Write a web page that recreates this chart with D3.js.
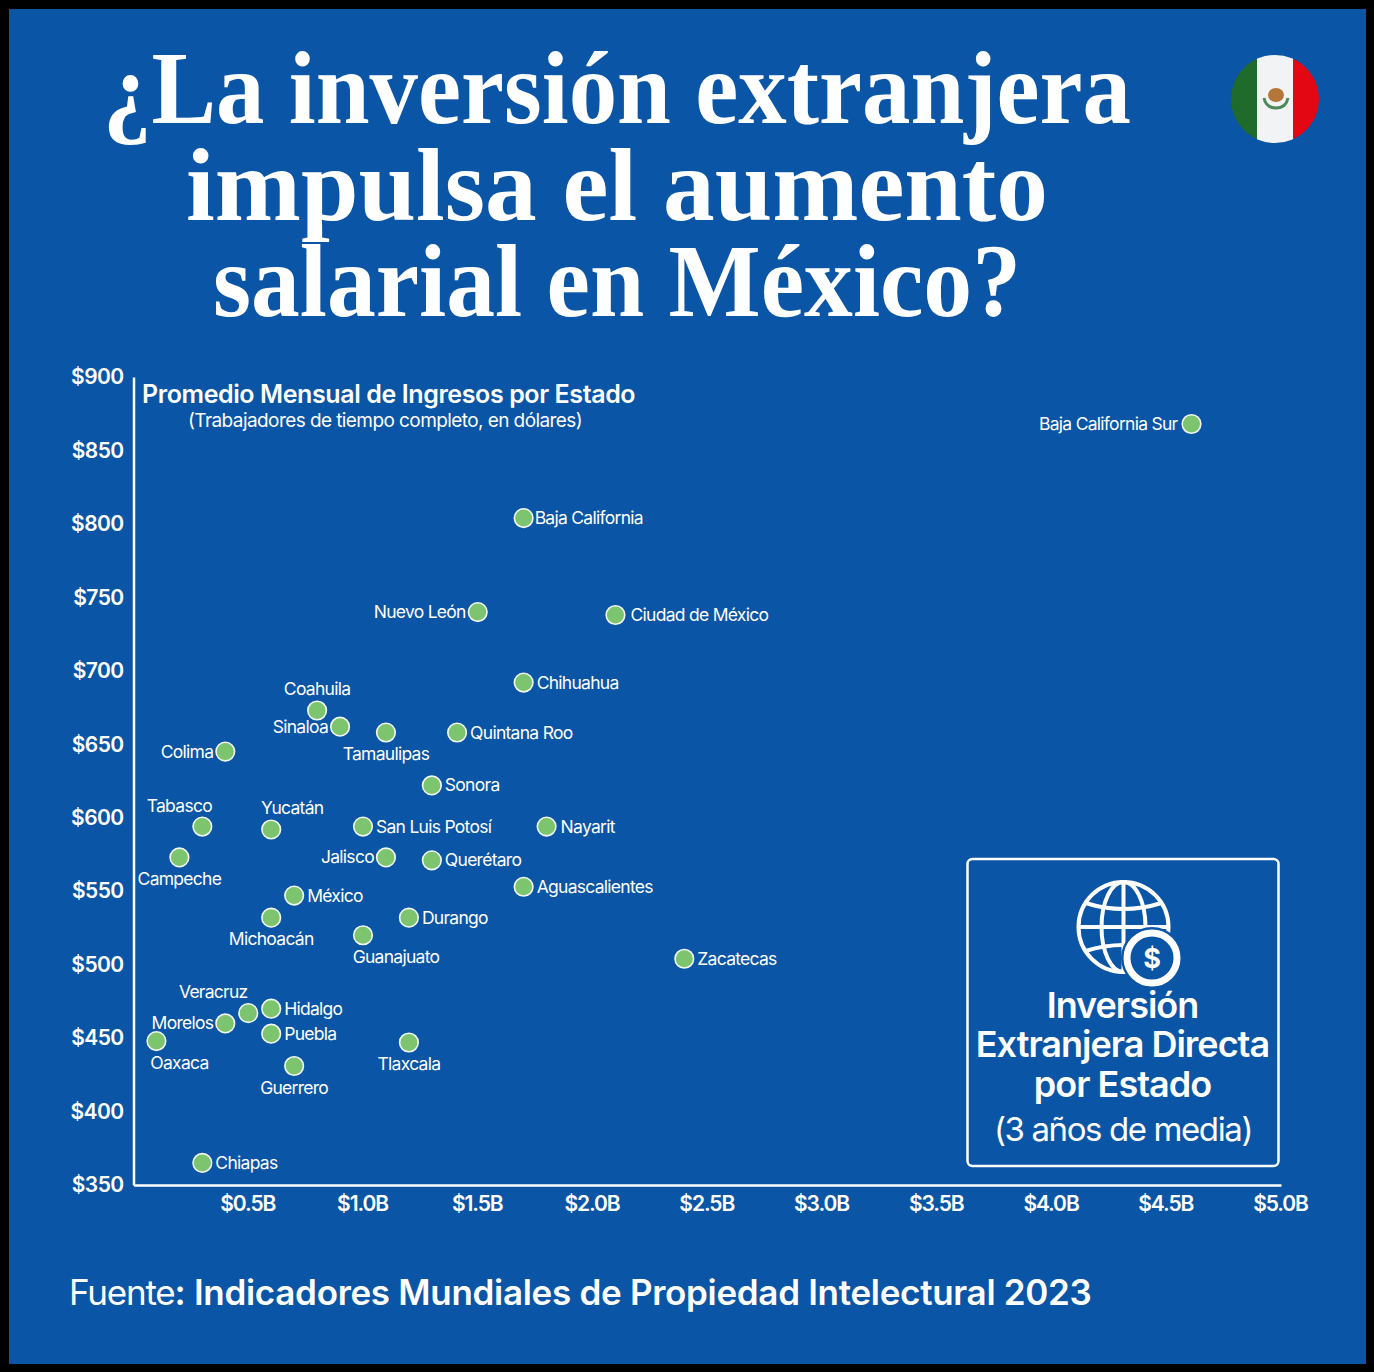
<!DOCTYPE html>
<html><head><meta charset="utf-8">
<script src="https://cdn.jsdelivr.net/npm/d3@7"></script>
<style>html,body{margin:0;padding:0;background:#000}svg{display:block}</style>
</head><body><svg id="c" width="1374" height="1372"></svg>
<script>
const states=["Baja California Sur","Baja California","Nuevo León","Ciudad de México","Chihuahua","Coahuila","Sinaloa","Tamaulipas","Quintana Roo","Colima","Sonora","Tabasco","Yucatán","San Luis Potosí","Nayarit","Jalisco","Querétaro","Campeche","Aguascalientes","México","Michoacán","Durango","Guanajuato","Zacatecas","Hidalgo","Veracruz","Morelos","Puebla","Oaxaca","Tlaxcala","Guerrero","Chiapas"];
const fdi=[4.61,1.7,1.5,2.1,1.7,0.8,0.9,1.1,1.41,0.4,1.3,0.3,0.6,1.0,1.8,1.1,1.3,0.2,1.7,0.7,0.6,1.2,1.0,2.4,0.6,0.5,0.4,0.6,0.1,1.2,0.7,0.3];
const income=[868,804,740,738,692,673,662,658,658,645,622,594,592,594,594,573,571,573,553,547,532,532,520,504,470,467,460,453,448,447,431,365];
const xTicks=[0.5,1,1.5,2,2.5,3,3.5,4,4.5,5];
const yTicks=[350,400,450,500,550,600,650,700,750,800,850,900];
const titleLines=["¿La inversión extranjera","impulsa el aumento","salarial en México?"];
const boxLines=["Inversión","Extranjera Directa","por Estado"];
// layout only: label placement beside each dot, horizontal nudges, title line widths
const labelSide=["l","r","l","r","r","t","l","b","r","l","r","t","t","r","r","l","r","b","r","r","b","r","b","r","r","t","l","r","b","b","b","r"];
const labelNudge={"Tabasco":-23,"Veracruz":-35,"Oaxaca":23,"Guanajuato":33,"Ciudad de México":2,"Nayarit":1,"Yucatán":21,"Baja California":-2,"Baja California Sur":-2};
const titleWidths=[1028,862,808];

const BLUE="#0a55a5",SANS="Inter, 'Open Sans', sans-serif",SERIF="'Liberation Serif', serif";
const svg=d3.select("#c");
svg.append("rect").attr("x",9).attr("y",9).attr("width",1357).attr("height",1355).attr("fill",BLUE);

const x=d3.scaleLinear().domain([0,5]).range([133.5,1281]);
const y=d3.scaleLinear().domain([350,900]).range([1185,377]);

// title
svg.append("g").selectAll("text").data(titleLines).join("text")
 .attr("x",617).attr("y",(d,i)=>123+i*96.5).attr("text-anchor","middle")
 .attr("textLength",(d,i)=>titleWidths[i]).attr("lengthAdjust","spacingAndGlyphs")
 .attr("font-family",SERIF).attr("font-weight",700).attr("font-size",103).attr("fill","#fff").text(d=>d);

// axes
const xAxis=svg.append("g").attr("transform",`translate(0,${y(350)})`).call(d3.axisBottom(x).tickValues(xTicks).tickSize(0).tickPadding(11).tickFormat(d=>`$${d.toFixed(1)}B`));
const yAxis=svg.append("g").attr("transform",`translate(${x(0)},0)`).call(d3.axisLeft(y).tickValues(yTicks).tickSize(0).tickPadding(10).tickFormat(d=>`$${d}`));
[xAxis,yAxis].forEach(a=>{a.selectAll("path").attr("stroke","#fff").attr("stroke-width",2.5);
 a.selectAll("text").attr("fill","#fff").attr("font-family",SANS).attr("font-weight",600).attr("font-size",21);});
xAxis.selectAll("text").attr("letter-spacing",-1.1).attr("dx",-1);
yAxis.selectAll("text").attr("letter-spacing",-0.6);

// chart heading
svg.append("text").attr("x",142).attr("y",403).attr("font-family",SANS).attr("font-weight",600).attr("font-size",25).attr("letter-spacing",-0.4).attr("fill","#fff").text("Promedio Mensual de Ingresos por Estado");
svg.append("text").attr("x",188).attr("y",427).attr("font-family",SANS).attr("font-size",19).attr("letter-spacing",-0.58).attr("fill","#fff").text("(Trabajadores de tiempo completo, en dólares)");

// points
const data=states.map((s,i)=>({s,v:fdi[i],w:income[i],side:labelSide[i]}));
svg.append("g").selectAll("circle").data(data).join("circle")
 .attr("cx",d=>x(d.v)).attr("cy",d=>y(d.w)).attr("r",9.3)
 .attr("fill","#7cc46e").attr("stroke","#f2f8f4").attr("stroke-width",1.6);
const off={r:[13,6,"start"],l:[-12,6,"end"],t:[0,-15,"middle"],b:[0,27.5,"middle"]};
svg.append("g").selectAll("text").data(data).join("text")
 .attr("x",d=>x(d.v)+off[d.side][0]+(labelNudge[d.s]||0)).attr("y",d=>y(d.w)+off[d.side][1])
 .attr("text-anchor",d=>off[d.side][2]).attr("font-family",SANS).attr("font-size",17.5).attr("letter-spacing",-0.72).attr("fill","#fff").text(d=>d.s);

// box
svg.append("rect").attr("x",967.5).attr("y",859).attr("width",311).attr("height",307).attr("rx",5).attr("fill","none").attr("stroke","#fff").attr("stroke-width",2.5);
svg.append("g").selectAll("text").data(boxLines).join("text").attr("x",1122.5).attr("y",(d,i)=>1017.5+i*39.5).attr("text-anchor","middle")
 .attr("font-family",SANS).attr("font-weight",600).attr("font-size",36).attr("letter-spacing",-1).attr("fill","#fff").text(d=>d);
svg.append("text").attr("x",1123).attr("y",1141).attr("text-anchor","middle").attr("font-family",SANS).attr("font-size",33).attr("letter-spacing",-1.4).attr("fill","#fff").text("(3 años de media)");

// globe icon
const g=svg.append("g").attr("fill","none").attr("stroke","#fff").attr("stroke-width",4);
const cx=1123.5,cy=927;
g.append("circle").attr("cx",cx).attr("cy",cy).attr("r",45);
g.append("ellipse").attr("cx",cx).attr("cy",cy).attr("rx",22).attr("ry",45);
g.append("line").attr("x1",cx).attr("x2",cx).attr("y1",cy-45).attr("y2",cy+45);
g.append("line").attr("x1",cx-45).attr("x2",cx+45).attr("y1",cy).attr("y2",cy);
g.append("path").attr("d",`M${cx-38} ${cy-24}Q${cx} ${cy-12} ${cx+38} ${cy-24}M${cx-38} ${cy+24}Q${cx} ${cy+12} ${cx+38} ${cy+24}`);
svg.append("circle").attr("cx",1152).attr("cy",958).attr("r",31).attr("fill",BLUE);
svg.append("circle").attr("cx",1152).attr("cy",958).attr("r",25).attr("fill",BLUE).attr("stroke","#fff").attr("stroke-width",7);
svg.append("text").attr("x",1152).attr("y",968).attr("text-anchor","middle").attr("font-family",SANS).attr("font-weight",700).attr("font-size",27).attr("fill","#fff").text("$");

// flag
const clip=svg.append("defs").append("clipPath").attr("id","fc");clip.append("circle").attr("cx",1275).attr("cy",99).attr("r",44);
const fl=svg.append("g").attr("clip-path","url(#fc)");
fl.append("rect").attr("x",1231).attr("y",55).attr("width",27).attr("height",88).attr("fill","#1f6b2c");
fl.append("rect").attr("x",1257).attr("y",55).attr("width",37).attr("height",88).attr("fill","#f1f3f5");
fl.append("rect").attr("x",1293).attr("y",55).attr("width",27).attr("height",88).attr("fill","#e30613");
svg.append("ellipse").attr("cx",1276).attr("cy",95).attr("rx",8).attr("ry",7).attr("fill","#b5763a");
svg.append("path").attr("d","M1264 98Q1266 108 1276 108Q1286 108 1288 98").attr("fill","none").attr("stroke","#4d8a58").attr("stroke-width",3);

// source
const src=svg.append("text").attr("x",69).attr("y",1305).attr("font-family",SANS).attr("font-size",35).attr("fill","#fff");
src.append("tspan").attr("letter-spacing",-1.2).text("Fuente");
src.append("tspan").attr("font-weight",600).attr("letter-spacing",-0.3).text(": Indicadores Mundiales de Propiedad Intelectural 2023");
</script></body></html>
